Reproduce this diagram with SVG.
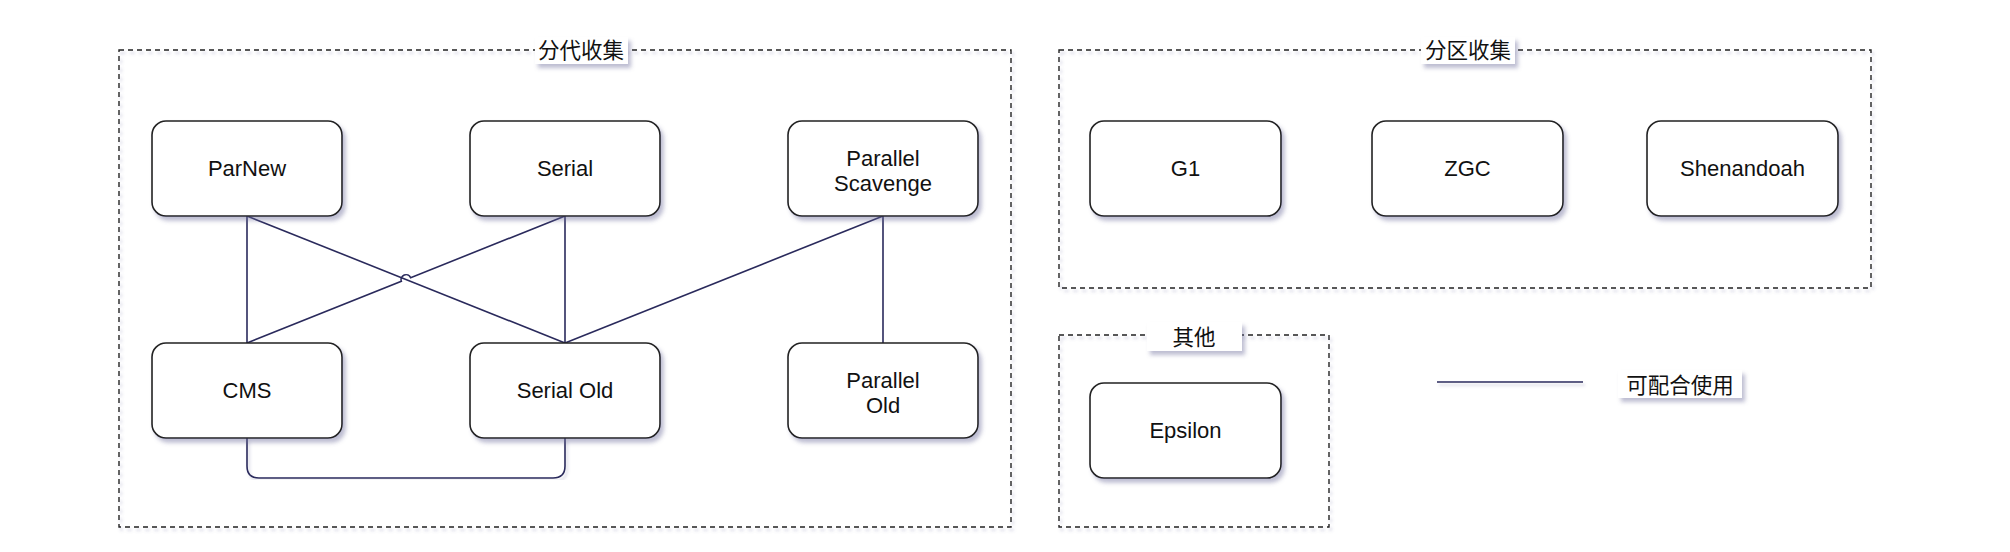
<svg xmlns="http://www.w3.org/2000/svg" width="2010" height="552" viewBox="0 0 2010 552">
<defs>
<filter id="sh" x="-10%" y="-10%" width="130%" height="140%">
<feDropShadow dx="3" dy="4" stdDeviation="2.2" flood-color="#6c6c9a" flood-opacity="0.45"/>
</filter>
<filter id="shl" x="-5%" y="-5%" width="110%" height="110%">
<feDropShadow dx="2" dy="3" stdDeviation="1.5" flood-color="#6c6c9a" flood-opacity="0.3"/>
</filter>
<filter id="shu" filterUnits="userSpaceOnUse" x="1420" y="370" width="180" height="30">
<feDropShadow dx="2" dy="3" stdDeviation="1.5" flood-color="#6c6c9a" flood-opacity="0.3"/>
</filter>
</defs>
<style>
.grp{fill:none;stroke:#222;stroke-width:1.4;stroke-dasharray:5 4}
.node rect{fill:#fff;stroke:#222;stroke-width:1.6}
.node text{font-family:"Liberation Sans",Arial,sans-serif;font-size:22px;fill:#111;text-anchor:middle}
.lbl rect{fill:#fff;stroke:none}
.lbl text{font-family:"Noto Sans CJK SC","Liberation Sans",sans-serif;font-size:21.5px;fill:#111;text-anchor:middle}
.conn path,.conn line{fill:none;stroke:#2a2a5c;stroke-width:1.6}
</style>
<rect width="2010" height="552" fill="#fff"/>

<g id="group-generational">
<rect class="grp" x="119" y="50" width="892" height="477" filter="url(#shl)"/>
</g>
<g id="group-region">
<rect class="grp" x="1059" y="50" width="812" height="238" filter="url(#shl)"/>
</g>
<g id="group-other">
<rect class="grp" x="1059" y="335" width="270" height="192" filter="url(#shl)"/>
</g>

<g id="connectors" class="conn">
<line x1="247" y1="216" x2="247" y2="343"/>
<line x1="247" y1="216" x2="565" y2="343"/>
<path d="M565,216 L410.64,277.65 A5,5 0 0 0 401.36,281.35 L247,343"/>
<line x1="565" y1="216" x2="565" y2="343"/>
<line x1="883" y1="216" x2="565" y2="343"/>
<line x1="883" y1="216" x2="883" y2="343"/>
<path d="M247,438 L247,466 Q247,478 259,478 L553,478 Q565,478 565,466 L565,438" filter="url(#shl)"/>
<line x1="1437" y1="382" x2="1583" y2="382" filter="url(#shu)"/>
</g>

<g id="label-generational" class="lbl">
<rect x="535" y="37" width="93" height="27" filter="url(#sh)"/>
<text x="581" y="58">分代收集</text>
</g>
<g id="label-region" class="lbl">
<rect x="1421" y="37" width="94" height="27" filter="url(#sh)"/>
<text x="1468" y="58">分区收集</text>
</g>
<g id="label-other" class="lbl">
<rect x="1147" y="322" width="95" height="29" filter="url(#sh)"/>
<text x="1194" y="345">其他</text>
</g>
<g id="legend-label" class="lbl">
<rect x="1618" y="370" width="124" height="28" filter="url(#sh)"/>
<text x="1680" y="393">可配合使用</text>
</g>

<g id="node-parnew" class="node">
<rect x="152" y="121" width="190" height="95" rx="14" filter="url(#sh)"/>
<text x="247" y="176">ParNew</text>
</g>
<g id="node-serial" class="node">
<rect x="470" y="121" width="190" height="95" rx="14" filter="url(#sh)"/>
<text x="565" y="176">Serial</text>
</g>
<g id="node-parallel-scavenge" class="node">
<rect x="788" y="121" width="190" height="95" rx="14" filter="url(#sh)"/>
<text x="883" y="166">Parallel</text>
<text x="883" y="191">Scavenge</text>
</g>
<g id="node-cms" class="node">
<rect x="152" y="343" width="190" height="95" rx="14" filter="url(#sh)"/>
<text x="247" y="398">CMS</text>
</g>
<g id="node-serial-old" class="node">
<rect x="470" y="343" width="190" height="95" rx="14" filter="url(#sh)"/>
<text x="565" y="398">Serial Old</text>
</g>
<g id="node-parallel-old" class="node">
<rect x="788" y="343" width="190" height="95" rx="14" filter="url(#sh)"/>
<text x="883" y="388">Parallel</text>
<text x="883" y="413">Old</text>
</g>
<g id="node-g1" class="node">
<rect x="1090" y="121" width="191" height="95" rx="14" filter="url(#sh)"/>
<text x="1185.5" y="176">G1</text>
</g>
<g id="node-zgc" class="node">
<rect x="1372" y="121" width="191" height="95" rx="14" filter="url(#sh)"/>
<text x="1467.5" y="176">ZGC</text>
</g>
<g id="node-shenandoah" class="node">
<rect x="1647" y="121" width="191" height="95" rx="14" filter="url(#sh)"/>
<text x="1742.5" y="176">Shenandoah</text>
</g>
<g id="node-epsilon" class="node">
<rect x="1090" y="383" width="191" height="95" rx="14" filter="url(#sh)"/>
<text x="1185.5" y="438">Epsilon</text>
</g>
</svg>
